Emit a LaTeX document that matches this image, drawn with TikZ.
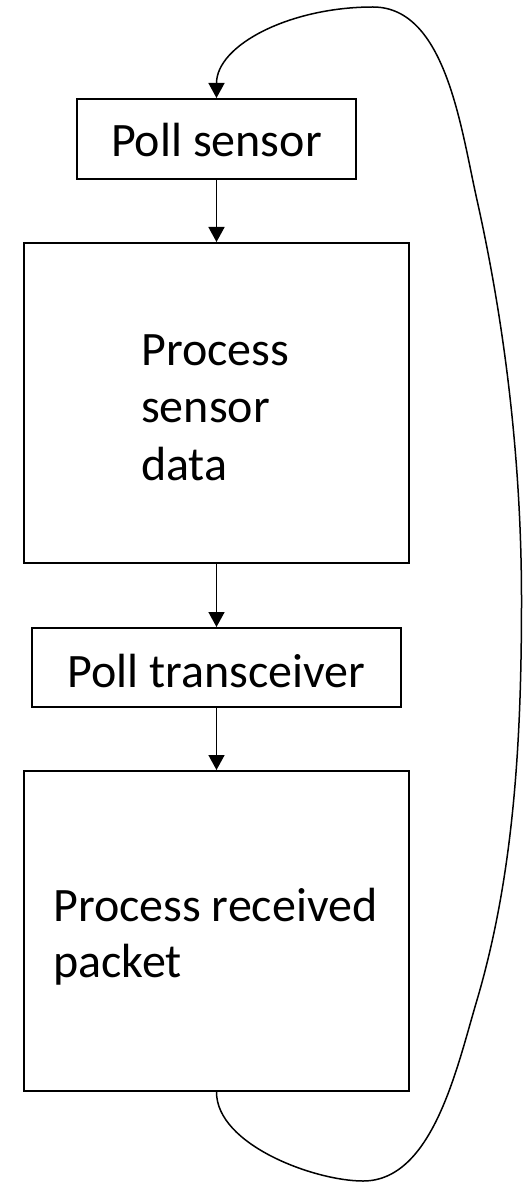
\documentclass[tikz,border=0pt]{standalone}
\usepackage{fontspec}
\setmainfont{Carlito}
\usetikzlibrary{arrows.meta}

\tikzset{
  stepbox/.style={draw=black, line width=2pt, rectangle, inner sep=0pt, fill=white},
  lbl/.style={inner sep=0pt, font=\fontsize{48}{58}\selectfont},
  flow/.style={line width=1.6pt, -{Triangle[length=15pt,width=16pt]}},
  loopback/.style={line width=1.5pt, -{Triangle[length=15pt,width=16pt]}}
}

\begin{document}
\begin{tikzpicture}[x=1pt, y=-1pt]
  \useasboundingbox (0,0) rectangle (523,1182);

  % process boxes
  \node[stepbox, minimum width=279pt, minimum height=80pt]  (poll1) at (216.5,139) {};
  \node[stepbox, minimum width=385pt, minimum height=320pt] (proc1) at (216.5,403) {};
  \node[stepbox, minimum width=369pt, minimum height=79pt]  (poll2) at (216.5,667.5) {};
  \node[stepbox, minimum width=385pt, minimum height=320pt] (proc2) at (216.5,931) {};

  % box labels
  \node[lbl, anchor=base] (t1) at (216.5,157) {Poll sensor};
  \node[lbl, anchor=base west] (t2a) at (141,365) {Process};
  \node[lbl, anchor=base west] (t2b) at (141,422) {sensor};
  \node[lbl, anchor=base west] (t2c) at (141,480) {data};
  \node[lbl, anchor=base] (t3) at (216.5,687) {Poll transceiver};
  \node[lbl, anchor=base west] (t4a) at (53,921) {Process received};
  \node[lbl, anchor=base west] (t4b) at (53,977) {packet};

  % straight flow
  \draw[flow] (poll1.south) -- (proc1.north);
  \draw[flow] (proc1.south) -- (poll2.north);
  \draw[flow] (poll2.south) -- (proc2.north);

  % loop back to the start
  \coordinate (lb1) at (363,1181);
  \coordinate (lb2) at (477,1000);
  \coordinate (lb3) at (521.5,600);
  \coordinate (lb4) at (477,200);
  \coordinate (lb5) at (373,7);
  \draw[loopback] (proc2.south)
      .. controls (216.5,1145) and (315,1181) .. (lb1)
      .. controls (433,1181) and (457,1067) .. (lb2)
      .. controls (515,871) and (521.5,734) .. (lb3)
      .. controls (521.5,466) and (506,330) .. (lb4)
      .. controls (461,129) and (446,7) .. (lb5)
      .. controls (290,7) and (216.5,45) .. (poll1.north);
\end{tikzpicture}
\end{document}
